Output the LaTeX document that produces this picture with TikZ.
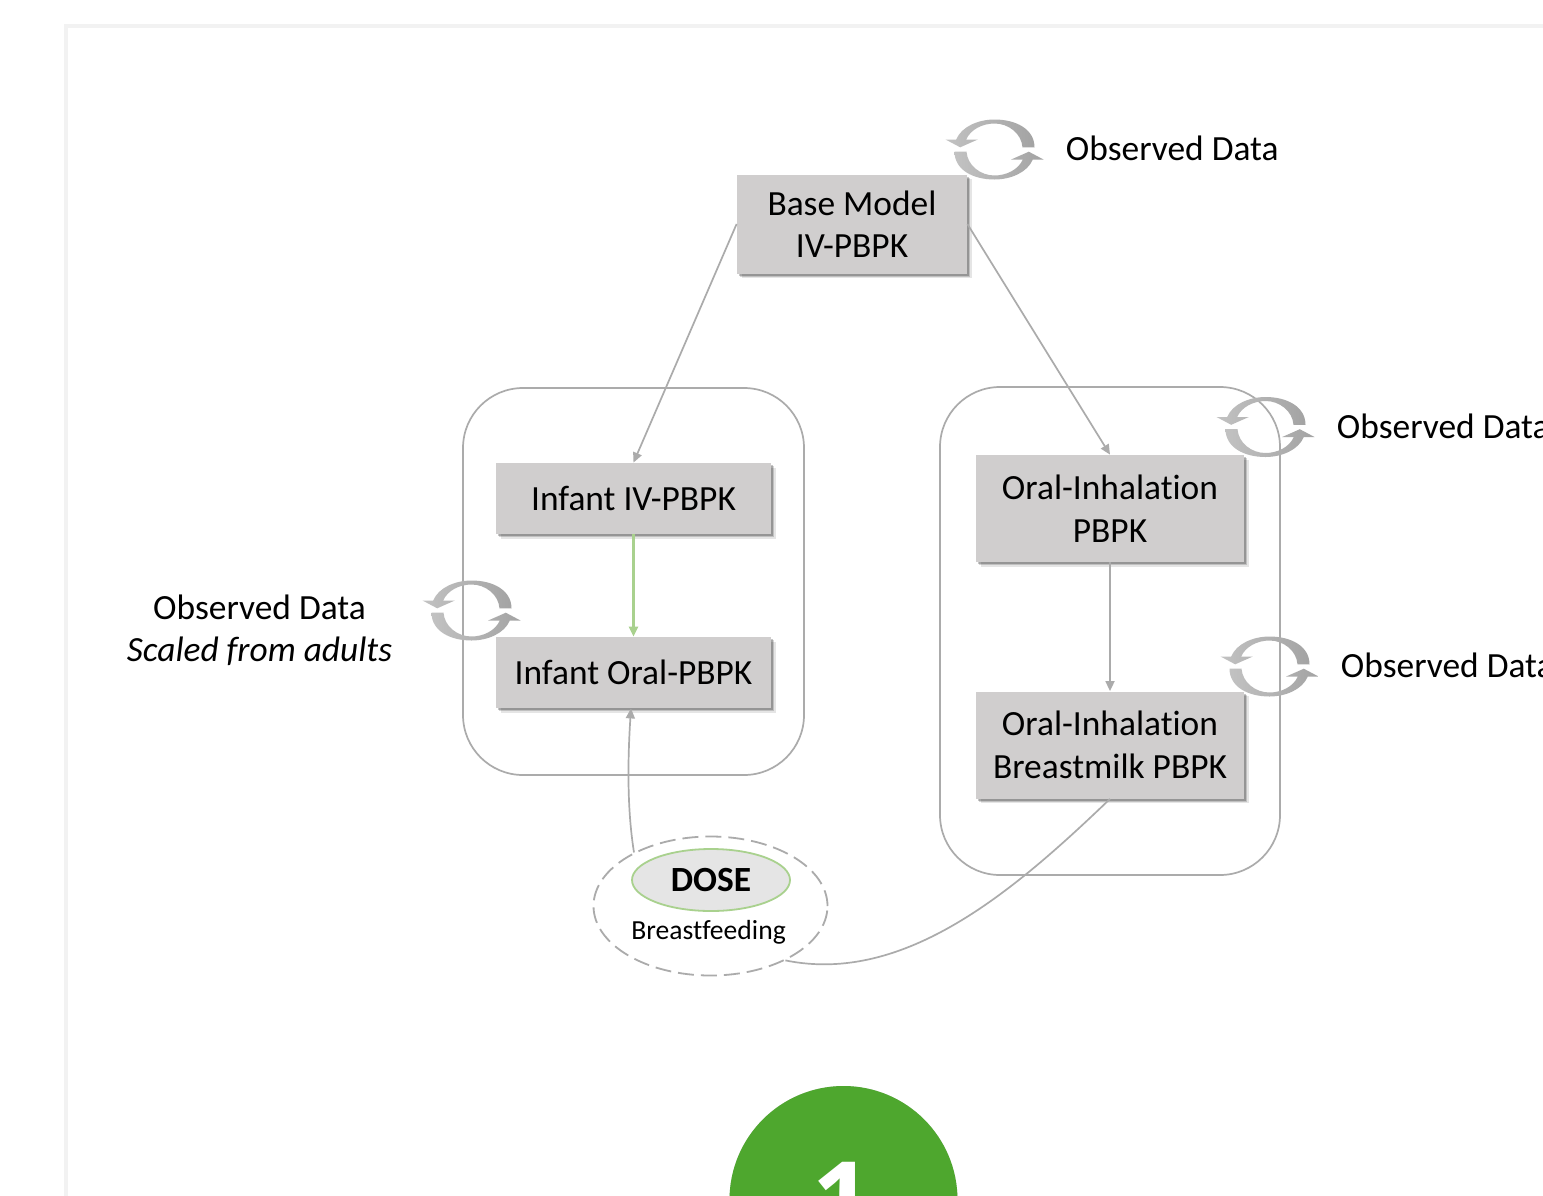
\documentclass[tikz,border=0pt]{standalone}
\usepackage{fontspec}
\setmainfont{Carlito}[Ligatures=CommonOff]
\newfontfamily\numfont{Open Sans}
\usetikzlibrary{arrows.meta,shadows,shapes.geometric}
\definecolor{boxfill}{HTML}{D0CECE}
\definecolor{linegrey}{HTML}{ABABAB}
\definecolor{leaf}{HTML}{A9D18E}
\definecolor{badge}{HTML}{4EA72E}
\definecolor{framegrey}{HTML}{F2F2F2}
\tikzset{
  model/.style={fill=boxfill,draw=none,align=center,inner sep=0pt,font=\fontsize{17.7}{21.25}\selectfont,
    general shadow={fill=black,opacity=.10,shadow xshift=2.4pt,shadow yshift=-2.4pt},
    general shadow={fill=black,opacity=.16,shadow xshift=1.7pt,shadow yshift=-1.7pt},
    general shadow={fill=black,opacity=.22,shadow xshift=1pt,shadow yshift=-1pt}},
  label/.style={align=center,inner sep=0pt,font=\fontsize{17.7}{21.25}\selectfont},
  group/.style={draw=linegrey,line width=.85pt,rounded corners=30pt,fill=none},
  conn/.style={draw=linegrey,line width=.85pt,-{Triangle[length=5pt,width=4.5pt]}},
  plainconn/.style={draw=linegrey,line width=.85pt},
  greenconn/.style={draw=leaf,line width=1.2pt,-{Triangle[length=5pt,width=4.5pt]}},
  cycle/.pic={
    \foreach \r in {0,180}{
      \shade[rotate=\r,left color=black!24,right color=black!36]
        (40,-2.2) -- (28,-2.2) .. controls (27,-16) and (14,-26) .. (0,-26)
        .. controls (-12,-26) and (-24,-20) .. (-28.3,-10) -- (-16.7,-10) -- (-34.3,-2.2) -- (-49,-10) -- (-38.3,-10)
        .. controls (-33,-23) and (-16,-30) .. (0,-30)
        .. controls (22,-30) and (40,-20) .. (40,-2.2) -- cycle;
    }
  }
}
\begin{document}
\begin{tikzpicture}[x=.5pt,y=-.5pt]
\useasboundingbox (0,0) rectangle (1543,1195);
\clip (0,0) rectangle (1543,1195);
\fill[white] (0,0) rectangle (1543,1195);
% page frame
\draw[framegrey,line width=2pt] (65.5,1200) -- (65.5,25.5) -- (1550,25.5);
% groups
\node[group,minimum width=170.5pt,minimum height=193.5pt] (leftgroup) at (633.5,581.5) {};
\node[group,minimum width=170pt,minimum height=244pt] (rightgroup) at (1110,631) {};
% boxes
\node[model,minimum width=115pt,minimum height=49.5pt] (base) at (852,224) {Base Model\\IV-PBPK};
\node[model,minimum width=137.5pt,minimum height=35.5pt] (infiv) at (633.5,498.5) {Infant IV-PBPK};
\node[model,minimum width=137.5pt,minimum height=35.5pt] (inforal) at (633.5,672.5) {Infant Oral-PBPK};
\node[model,minimum width=134pt,minimum height=53.5pt] (oral) at (1110,508.5) {Oral-Inhalation\\PBPK};
\node[model,minimum width=134pt,minimum height=53.5pt] (milk) at (1110,745) {Oral-Inhalation\\Breastmilk PBPK};
% dose
\node[ellipse,draw=linegrey,dash pattern=on 8pt off 3.5pt,line width=.9pt,minimum width=117pt,minimum height=69.5pt,inner sep=0pt] (doseouter) at (710.5,906) {};
\node[ellipse,draw=leaf,fill=black!10,line width=.9pt,minimum width=79pt,minimum height=31pt,inner sep=0pt,font=\fontsize{17.7}{20}\selectfont\bfseries] (dose) at (711,880) {DOSE};
\node[inner sep=0pt,font=\fontsize{13.8}{16}\selectfont] (bf) at (708.5,932) {Breastfeeding};
% connectors
\draw[conn] (base.west) -- (infiv.north);
\draw[conn] (base.east) -- (oral.north);
\draw[greenconn] (infiv.south) -- (inforal.north);
\draw[conn] (oral.south) -- (milk.north);
\draw[conn] (doseouter.145) .. controls (628,815) and (627,770) .. ([xshift=-1.25pt]inforal.south);
\draw[plainconn] (milk.south) .. controls (1015,890) and (905,985) .. (doseouter.-36);
% cycle icons
\pic at (994.5,149.5) {cycle};
\pic at (1265.5,427) {cycle};
\pic at (1269.5,666.5) {cycle};
\pic at (471.5,610.5) {cycle};
% labels
\node[label,anchor=west] (obs1) at (1065.5,148) {Observed Data};
\node[label,anchor=west] (obs2) at (1336.5,426) {Observed Data};
\node[label,anchor=west] (obs3) at (1340.5,665) {Observed Data};
\node[label] (obs4) at (259.5,630.5) {Observed Data\\\textit{Scaled from adults}};
% badge
\node[circle,fill=badge,minimum size=114pt,inner sep=0pt,
  general shadow={fill=black!60,opacity=.12,scale=1.03},
  general shadow={fill=black!60,opacity=.2,scale=1.012}] (badgec) at (843.5,1200) {};
\node[anchor=base,inner sep=0pt,text=white,font=\numfont\fontsize{52}{52}\selectfont\bfseries] (num) at (842,1236) {1};
\end{tikzpicture}
\end{document}
